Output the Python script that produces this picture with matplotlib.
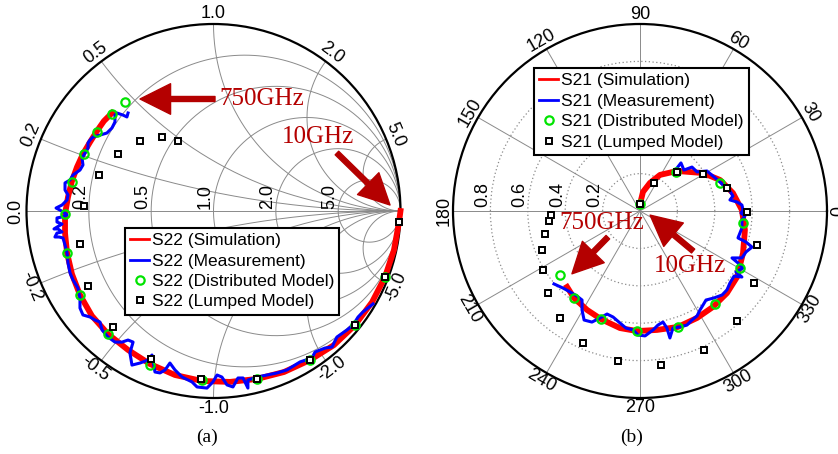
import matplotlib
matplotlib.use("Agg")
import matplotlib.pyplot as plt
import numpy as np
from matplotlib.patches import Circle

plt.rcParams['font.family'] = ['Liberation Sans', 'DejaVu Sans']

# ---------------- S22 (Smith chart, reflection coefficient re / im) ----------------
s22_sim_re = [1.0, 0.992, 0.965, 0.917, 0.848, 0.757, 0.644, 0.516, 0.377, 0.233, 0.088,
              -0.061, -0.206, -0.340, -0.457, -0.564, -0.650, -0.714, -0.757, -0.783,
              -0.794, -0.794, -0.778, -0.757, -0.730, -0.698, -0.660, -0.623, -0.586, -0.543]
s22_sim_im = [0.0, -0.059, -0.209, -0.353, -0.487, -0.610, -0.717, -0.797, -0.861, -0.898, -0.914,
              -0.909, -0.877, -0.818, -0.743, -0.658, -0.561, -0.449, -0.337, -0.225,
              -0.118, -0.016, 0.075, 0.160, 0.235, 0.305, 0.369, 0.428, 0.481, 0.524]

s22_meas_re = [0.853, 0.799, 0.773, 0.746, 0.714, 0.660, 0.634, 0.596, 0.543, 0.527, 0.463,
               0.393, 0.340, 0.286, 0.233, 0.184, 0.184, 0.158, 0.131, 0.104, 0.072, 0.045,
               0.019, -0.003, -0.035, -0.088, -0.115, -0.168, -0.206, -0.233, -0.259, -0.286,
               -0.313, -0.329, -0.350, -0.393, -0.436, -0.447, -0.430, -0.457, -0.489, -0.527,
               -0.564, -0.596, -0.607, -0.634, -0.660, -0.698, -0.714, -0.714, -0.725, -0.751,
               -0.767, -0.778, -0.783, -0.794, -0.805, -0.826, -0.848, -0.837, -0.810, -0.832,
               -0.853, -0.837, -0.810, -0.837, -0.837, -0.810, -0.783, -0.794, -0.821, -0.842,
               -0.810, -0.783, -0.778, -0.794, -0.794, -0.767, -0.751, -0.714, -0.698, -0.703,
               -0.687, -0.671, -0.671, -0.660, -0.644, -0.607, -0.570, -0.543, -0.527, -0.527,
               -0.516, -0.484, -0.463, -0.457]
s22_meas_im = [-0.497, -0.540, -0.567, -0.610, -0.636, -0.674, -0.727, -0.733, -0.754, -0.786, -0.807,
               -0.850, -0.866, -0.877, -0.888, -0.904, -0.947, -0.893, -0.893, -0.941, -0.930, -0.888,
               -0.877, -0.914, -0.947, -0.941, -0.914, -0.888, -0.850, -0.813, -0.850, -0.866,
               -0.861, -0.770, -0.797, -0.813, -0.824, -0.759, -0.701, -0.690, -0.701, -0.701,
               -0.674, -0.636, -0.594, -0.583, -0.567, -0.556, -0.519, -0.465, -0.412, -0.369,
               -0.332, -0.278, -0.225, -0.182, -0.144, -0.139, -0.139, -0.118, -0.112, -0.096,
               -0.096, -0.086, -0.070, -0.059, -0.037, -0.032, -0.021, -0.011, 0.005, 0.016,
               0.032, 0.059, 0.086, 0.112, 0.150, 0.166, 0.193, 0.219, 0.246, 0.283,
               0.310, 0.337, 0.364, 0.380, 0.396, 0.406, 0.417, 0.444, 0.476, 0.513,
               0.524, 0.513, 0.503, 0.524]

s22_dist_re = [0.917, 0.757, 0.516, 0.233, -0.061, -0.340, -0.564, -0.714, -0.783, -0.794,
               -0.757, -0.693, -0.623, -0.543, -0.473]
s22_dist_im = [-0.353, -0.610, -0.797, -0.898, -0.904, -0.824, -0.658, -0.449, -0.225, -0.016,
               0.155, 0.305, 0.422, 0.519, 0.583]

s22_lump_re = [0.992, 0.917, 0.757, 0.516, 0.233, -0.067, -0.334, -0.537, -0.671, -0.714,
               -0.693, -0.612, -0.511, -0.393, -0.275, -0.190]
s22_lump_im = [-0.059, -0.353, -0.610, -0.797, -0.898, -0.898, -0.791, -0.620, -0.401, -0.176,
               0.027, 0.193, 0.305, 0.374, 0.396, 0.374]

# ---------------- S21 (polar, re / im) ----------------
s21_sim_re = [0.0, 0.016, 0.053, 0.107, 0.198, 0.337, 0.428, 0.497, 0.545, 0.561, 0.551, 0.519,
              0.465, 0.390, 0.305, 0.203, 0.091, -0.016, -0.107, -0.209, -0.283, -0.353, -0.390]
s21_sim_im = [0.037, 0.102, 0.150, 0.193, 0.214, 0.203, 0.166, 0.096, 0.005, -0.102, -0.225, -0.353,
              -0.439, -0.513, -0.572, -0.620, -0.636, -0.642, -0.626, -0.578, -0.529, -0.465, -0.406]

s21_meas_re = [0.198, 0.219, 0.235, 0.278, 0.305, 0.358, 0.390, 0.428, 0.455, 0.481, 0.497, 0.481,
               0.519, 0.545, 0.551, 0.540, 0.561, 0.545, 0.545, 0.524, 0.567, 0.599, 0.567, 0.545,
               0.492, 0.524, 0.551, 0.513, 0.545, 0.503, 0.481, 0.465, 0.439, 0.396, 0.353, 0.337,
               0.321, 0.305, 0.278, 0.251, 0.214, 0.176, 0.160, 0.144, 0.123, 0.096, 0.070, 0.027,
               -0.011, -0.037, -0.075, -0.107, -0.144, -0.176, -0.214, -0.257, -0.299, -0.310,
               -0.310, -0.337, -0.374, -0.412, -0.460]
s21_meas_im = [0.230, 0.257, 0.219, 0.235, 0.209, 0.214, 0.187, 0.155, 0.128, 0.107, 0.080, 0.059,
               0.048, 0.032, 0.005, -0.011, -0.027, -0.048, -0.091, -0.144, -0.166, -0.193, -0.219, -0.251,
               -0.251, -0.278, -0.305, -0.326, -0.353, -0.348, -0.385, -0.422, -0.449, -0.465, -0.476, -0.503,
               -0.529, -0.561, -0.583, -0.610, -0.620, -0.626, -0.679, -0.626, -0.594, -0.610, -0.636, -0.668,
               -0.663, -0.636, -0.626, -0.599, -0.567, -0.551, -0.572, -0.594, -0.583, -0.529,
               -0.476, -0.455, -0.433, -0.412, -0.390]

s21_dist_re = [0.0, 0.193, 0.428, 0.551, 0.535, 0.401, 0.203, -0.016, -0.209, -0.353, -0.428]
s21_dist_im = [0.037, 0.209, 0.150, -0.064, -0.305, -0.497, -0.620, -0.642, -0.578, -0.465, -0.342]

s21_lump_re = [0.0, 0.075, 0.198, 0.337, 0.465, 0.572, 0.626, 0.610, 0.519, 0.342, 0.112, -0.118,
               -0.305, -0.428, -0.492, -0.519, -0.524, -0.508, -0.487, -0.476]
s21_lump_im = [0.037, 0.150, 0.209, 0.198, 0.123, -0.005, -0.182, -0.385, -0.588, -0.743, -0.824, -0.802,
               -0.706, -0.572, -0.439, -0.316, -0.209, -0.123, -0.053, -0.021]

# grid values
smith_r = [0.2, 0.5, 1.0, 2.0, 5.0]
smith_x = [0.2, 0.5, 1.0, 2.0, 5.0]
polar_angles = list(range(0, 360, 30))
polar_rings = [0.2, 0.4, 0.6, 0.8]

grid_col = '#8a8a8a'
ann_col = '#b40000'
tick_fs = 13
leg_fs = 12.5

fig = plt.figure(figsize=(8.38, 4.54), dpi=100)

# ============================== (a) Smith chart ==============================
ax1 = fig.add_axes([26.5 / 838, 56 / 454, 374 / 838, 374 / 454])
ax1.set_xlim(-1, 1)
ax1.set_ylim(-1, 1)
ax1.axis('off')

t = np.linspace(0, 2 * np.pi, 400)
for r in smith_r:
    c = r / (1 + r)
    rad = 1 / (1 + r)
    ax1.plot(c + rad * np.cos(t), rad * np.sin(t), color=grid_col, lw=0.7, zorder=1)
    # resistance label, just outside the circle on the real axis
    ax1.text(c - rad - 0.02, 0.012, '%.1f' % r, rotation=90, rotation_mode='anchor',
             ha='left', va='baseline', fontsize=tick_fs, zorder=2)

rr = np.concatenate([[0], np.logspace(-3, 3, 500)])
for x in smith_x:
    for sgn in (1, -1):
        z = rr + 1j * sgn * x
        g = (z - 1) / (z + 1)
        ax1.plot(g.real, g.imag, color=grid_col, lw=0.7, zorder=1)
ax1.plot([-1, 1], [0, 0], color=grid_col, lw=0.7, zorder=1)
ax1.add_patch(Circle((0, 0), 1, fill=False, color='black', lw=1.6, zorder=2, clip_on=False))

# reactance labels round the rim
for x in [0.0] + smith_x:
    for sgn in (1, -1):
        if x == 0 and sgn < 0:
            continue
        th = np.pi - 2 * np.arctan(x)
        th = th * sgn
        deg = np.degrees(th)
        rot = deg - 90 if deg > 0 else deg + 90
        lab = '%.1f' % (sgn * x) if x != 0 else '0.0'
        ax1.text(1.055 * np.cos(th), 1.055 * np.sin(th), lab, rotation=rot,
                 rotation_mode='anchor', ha='center', va='center', fontsize=tick_fs)

ax1.plot(s22_sim_re, s22_sim_im, color='#ff0000', lw=4.2, zorder=3, clip_on=False,
         label='S22 (Simulation)')
ax1.plot(s22_meas_re, s22_meas_im, color='#0000ff', lw=2.2, zorder=4, clip_on=False,
         label='S22 (Measurement)')
ax1.plot(s22_dist_re, s22_dist_im, ls='none', marker='o', ms=6, mfc='none', mec='#00e400',
         mew=1.6, zorder=5, clip_on=False, label='S22 (Distributed Model)')
ax1.plot(s22_lump_re, s22_lump_im, ls='none', marker='s', ms=5, mfc='white', mec='black',
         mew=1.4, zorder=6, clip_on=False, label='S22 (Lumped Model)')

leg1 = ax1.legend(loc='upper left', bbox_to_anchor=(0.263, 0.4545), borderaxespad=0,
                  fancybox=False, edgecolor='black', framealpha=1, fontsize=leg_fs,
                  handlelength=1.1, handletextpad=0.15, labelspacing=0.3, borderpad=0.3)
leg1.get_frame().set_linewidth(1.5)
leg1.set_zorder(10)
for ln in leg1.get_lines():
    ln.set_linewidth(2)

arrow_style = 'simple,head_length=1.1,head_width=1.1,tail_width=0.18'
ax1.text(0.257, 0.599, '750GHz', color=ann_col, fontsize=18, family='Liberation Serif',
         ha='center', va='center', zorder=12)
ax1.annotate('', xy=(-0.393, 0.599), xytext=(0.008, 0.599), zorder=12,
             arrowprops=dict(arrowstyle=arrow_style, color=ann_col, mutation_scale=20,
                             shrinkA=0, shrinkB=0))
ax1.text(0.561, 0.396, '10GHz', color=ann_col, fontsize=18, family='Liberation Serif',
         ha='center', va='center', zorder=12)
ax1.annotate('', xy=(0.944, 0.032), xytext=(0.660, 0.310), zorder=12,
             arrowprops=dict(arrowstyle=arrow_style, color=ann_col, mutation_scale=20,
                             shrinkA=0, shrinkB=0))

# ============================== (b) polar S21 ==============================
ax2 = fig.add_axes([453 / 838, 56 / 454, 374 / 838, 374 / 454], projection='polar')
ax2.set_ylim(0, 1)
ax2.set_xticks(np.deg2rad(polar_angles))
ax2.set_xticklabels([])
ax2.set_yticks(polar_rings)
ax2.set_yticklabels([])
ax2.xaxis.grid(True, color=grid_col, lw=0.7, ls='-')
ax2.yaxis.grid(True, color=grid_col, lw=0.9, ls=(0, (1, 2)))
ax2.spines['polar'].set_linewidth(1.6)

for a in polar_angles:
    rot = a - 90 if a <= 180 else a - 270
    rad_lab = 1.03 if a == 0 else 1.05
    ax2.text(np.deg2rad(a), rad_lab, str(a), rotation=rot, rotation_mode='anchor',
             ha='center', va='center', fontsize=tick_fs)
for rg in polar_rings:
    ax2.text(0.5 - (rg + 0.018) / 2, 0.5 + 0.01, '%.1f' % rg, transform=ax2.transAxes,
             rotation=90, rotation_mode='anchor', ha='left', va='baseline', fontsize=tick_fs)

s21_sim = np.array(s21_sim_re) + 1j * np.array(s21_sim_im)
s21_meas = np.array(s21_meas_re) + 1j * np.array(s21_meas_im)
s21_dist = np.array(s21_dist_re) + 1j * np.array(s21_dist_im)
s21_lump = np.array(s21_lump_re) + 1j * np.array(s21_lump_im)

ax2.plot(np.angle(s21_sim), np.abs(s21_sim), color='#ff0000', lw=4.2, zorder=3,
         label='S21 (Simulation)')
ax2.plot(np.angle(s21_meas), np.abs(s21_meas), color='#0000ff', lw=2.2, zorder=4,
         label='S21 (Measurement)')
ax2.plot(np.angle(s21_dist), np.abs(s21_dist), ls='none', marker='o', ms=6, mfc='none',
         mec='#00e400', mew=1.6, zorder=5, label='S21 (Distributed Model)')
ax2.plot(np.angle(s21_lump), np.abs(s21_lump), ls='none', marker='s', ms=5, mfc='white',
         mec='black', mew=1.4, zorder=6, label='S21 (Lumped Model)')

leg2 = ax2.legend(loc='upper left', bbox_to_anchor=(0.2166, 0.882), borderaxespad=0,
                  fancybox=False, edgecolor='black', framealpha=1, fontsize=leg_fs,
                  handlelength=1.1, handletextpad=0.15, labelspacing=0.3, borderpad=0.3)
leg2.get_frame().set_linewidth(1.5)
leg2.set_zorder(10)
for ln in leg2.get_lines():
    ln.set_linewidth(2)

ax2.text(0.397, 0.469, '750GHz', transform=ax2.transAxes, color=ann_col, fontsize=18,
         family='Liberation Serif', ha='center', va='center', zorder=12)
ax2.annotate('', xy=(0.318, 0.332), xytext=(0.414, 0.430), xycoords='axes fraction',
             textcoords='axes fraction', zorder=12,
             arrowprops=dict(arrowstyle=arrow_style, color=ann_col, mutation_scale=20,
                             shrinkA=0, shrinkB=0))
ax2.text(0.634, 0.353, '10GHz', transform=ax2.transAxes, color=ann_col, fontsize=18,
         family='Liberation Serif', ha='center', va='center', zorder=12)
ax2.annotate('', xy=(0.527, 0.489), xytext=(0.642, 0.393), xycoords='axes fraction',
             textcoords='axes fraction', zorder=12,
             arrowprops=dict(arrowstyle=arrow_style, color=ann_col, mutation_scale=20,
                             shrinkA=0, shrinkB=0))

# captions
fig.text(207 / 838, 1 - 437 / 454, '(a)', ha='center', va='center', fontsize=14,
         family='Liberation Serif')
fig.text(632 / 838, 1 - 437 / 454, '(b)', ha='center', va='center', fontsize=14,
         family='Liberation Serif')

fig.savefig('out.png', dpi=100)
